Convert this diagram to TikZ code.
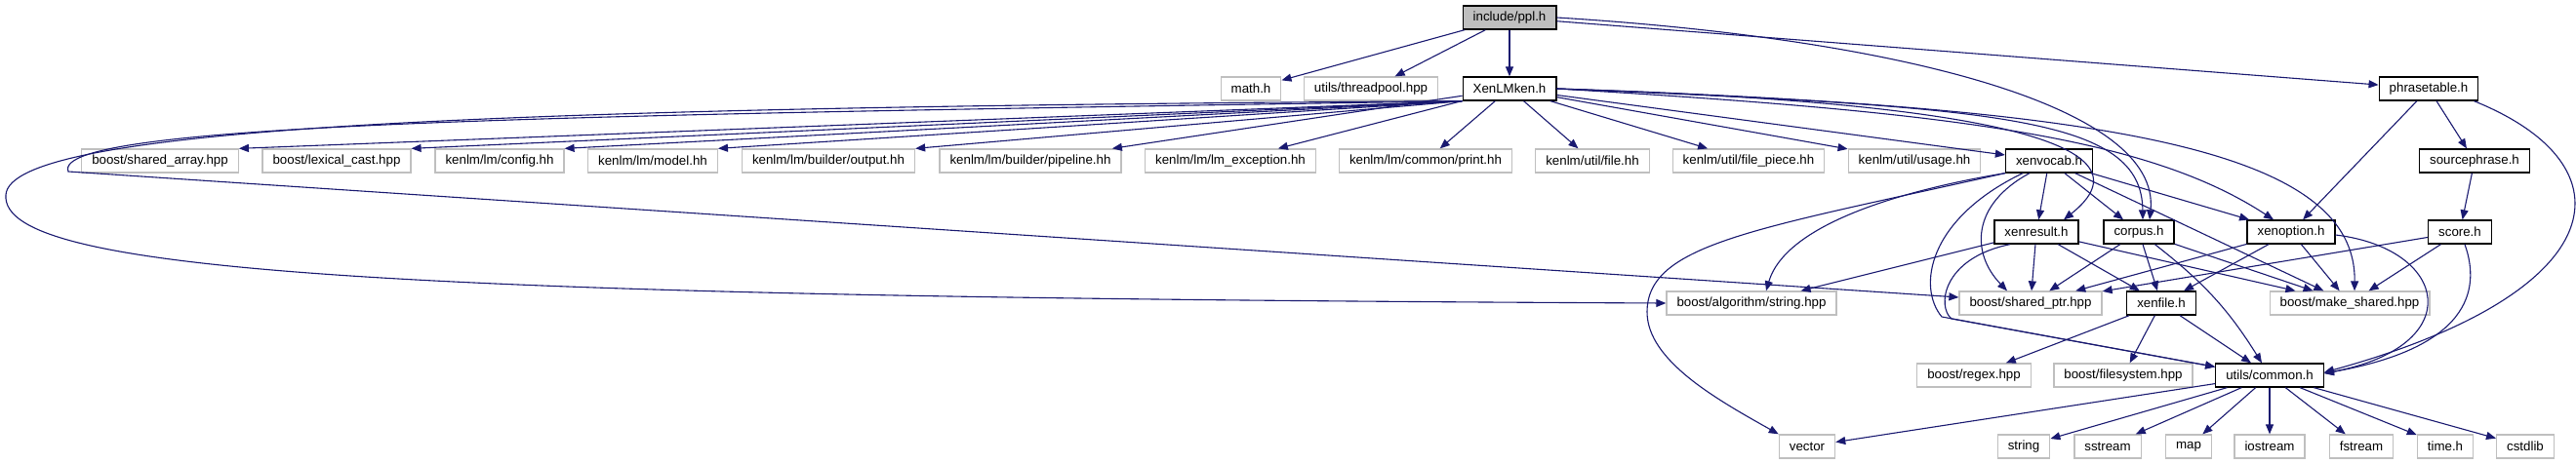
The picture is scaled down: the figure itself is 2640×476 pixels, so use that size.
\documentclass[tikz,border=0pt]{standalone}
\usepackage{fontspec}
\setmainfont{Liberation Sans}
\usepackage{tikz}
\usetikzlibrary{arrows.meta}
\definecolor{edgeblue}{HTML}{191970}

\begin{document}
\begin{tikzpicture}[x=1pt,y=-1pt,
  file/.style={draw=black,line width=1.3pt,fill=white,inner xsep=10.5pt,inner ysep=0pt,
    minimum height=24pt,font=\fontsize{13.3}{15}\selectfont},
  sysfile/.style={file,draw=black!25},
  topfile/.style={file,fill=black!25},
  dep/.style={draw=edgeblue,line width=1.1pt,-{Triangle[length=10pt,width=8pt]}}]
  \fill[white] (0,0) rectangle (2640,476);
  \useasboundingbox (0,0) rectangle (2640,476);
  \node[topfile] (ppl) at (1547,18) {include/ppl.h};
  \node[sysfile] (math) at (1282,91) {math.h};
  \node[sysfile] (threadpool) at (1405,91) {utils/threadpool.hpp};
  \node[file] (xenlmken) at (1547,91) {XenLMken.h};
  \node[file] (phrasetable) at (2489,91) {phrasetable.h};
  \foreach \nm/\x/\t in {sharedarray/164/{boost/shared\_array.hpp}, lexicalcast/345/{boost/lexical\_cast.hpp},
      config/512/{kenlm/lm/config.hh}, model/669/{kenlm/lm/model.hh}, output/849/{kenlm/lm/builder/output.hh},
      pipeline/1056/{kenlm/lm/builder/pipeline.hh}, lmexception/1261/{kenlm/lm/lm\_exception.hh},
      printhh/1461/{kenlm/lm/common/print.hh}, filehh/1632/{kenlm/util/file.hh},
      filepiece/1792/{kenlm/util/file\_piece.hh}, usage/1962/{kenlm/util/usage.hh}}
    \node[sysfile] (\nm) at (\x,165) {\t};
  \node[file] (xenvocab) at (2100,165) {xenvocab.h};
  \node[file] (sourcephrase) at (2536,165) {sourcephrase.h};
  \node[file] (xenresult) at (2087,238) {xenresult.h};
  \node[file] (corpus) at (2192,238) {corpus.h};
  \node[file] (xenoption) at (2348,238) {xenoption.h};
  \node[file] (score) at (2521,238) {score.h};
  \node[sysfile] (algostring) at (1795,311) {boost/algorithm/string.hpp};
  \node[sysfile] (sharedptr) at (2081,311) {boost/shared\_ptr.hpp};
  \node[file] (xenfile) at (2215,311) {xenfile.h};
  \node[sysfile] (makeshared) at (2408,311) {boost/make\_shared.hpp};
  \node[sysfile] (regex) at (2023,385) {boost/regex.hpp};
  \node[sysfile] (filesystem) at (2176,385) {boost/filesystem.hpp};
  \node[file] (common) at (2326,385) {utils/common.h};
  \foreach \nm/\x/\t in {vector/1852/vector, string/2074/string, sstream/2160/sstream, map/2243/map,
      iostream/2326/iostream, fstream/2420/fstream, timeh/2506/time.h, cstdlib/2588/cstdlib}
    \node[sysfile] (\nm) at (\x,458) {\t};

  \foreach \t in {math,threadpool,xenlmken,phrasetable}
    \draw[dep] (ppl) -- (\t);
  \draw[dep] (ppl.east) .. controls (1950,40) and (2215,110) .. ([xshift=11pt]corpus.north);

  \foreach \t in {sharedarray,lexicalcast,config,model,output}
    \draw[dep] (xenlmken.south west) -- (\t.north east);
  \foreach \t in {pipeline,lmexception,printhh,filehh,filepiece,usage,xenvocab}
    \draw[dep] (xenlmken) -- (\t);
  \draw[dep] (xenlmken.south west) .. controls (500,110) and (10,130) .. (6,200)
    .. controls (0,280) and (400,305) .. (algostring.west);
  \draw[dep] (xenlmken.south west) .. controls (600,118) and (50,125) .. (70,176)
    -- ([yshift=6pt]sharedptr.west);
  \draw[dep] (xenlmken.east) .. controls (2050,105) and (2210,150) .. ([xshift=28pt]xenresult.north);
  \draw[dep] (xenlmken.east) .. controls (2050,110) and (2195,120) .. ([xshift=4pt]corpus.north);
  \draw[dep] (xenlmken.east) .. controls (2000,115) and (2200,140) .. ([xshift=-18pt]xenoption.north);
  \draw[dep] (xenlmken.east) .. controls (2150,110) and (2415,150) .. ([xshift=5pt]makeshared.north);

  \foreach \t in {xenresult,corpus,xenoption,makeshared}
    \draw[dep] (xenvocab) -- (\t);
  \draw[dep] ([xshift=-20pt]xenvocab.south) .. controls (2020,210) and (2020,260) .. ([xshift=-24pt]sharedptr.north);
  \draw[dep] ([xshift=-27pt]xenvocab.south) .. controls (1975,225) and (1965,295) .. (1990,325)
    -- ([yshift=-4pt]common.north west);
  \draw[dep] (xenvocab.south west) .. controls (1950,195) and (1830,230) .. ([xshift=15pt]algostring.north);
  \draw[dep] (xenvocab.south west) .. controls (1800,235) and (1688,250) .. (1688,320)
    .. controls (1688,370) and (1760,410) .. (vector.north west);

  \foreach \t in {algostring,sharedptr,xenfile,makeshared}
    \draw[dep] (xenresult) -- (\t);
  \draw[dep] ([xshift=-27pt]xenresult.south) .. controls (1990,265) and (1985,315) .. (2000,327)
    -- ([yshift=-4pt]common.north west);

  \foreach \t in {sharedptr,xenfile,makeshared}
    \draw[dep] (corpus) -- (\t);
  \draw[dep] (corpus) to[bend left=10] (common);

  \foreach \t in {sharedptr,xenfile,makeshared}
    \draw[dep] (xenoption) -- (\t);
  \draw[dep] ([yshift=-3pt]xenoption.east) .. controls (2510,255) and (2530,355) .. ([yshift=2pt]common.east);

  \foreach \t in {sharedptr,makeshared}
    \draw[dep] (score) -- (\t);
  \draw[dep] ([xshift=5pt]score.south) .. controls (2540,290) and (2540,355) .. ([yshift=2pt]common.east);

  \draw[dep] (phrasetable) -- (xenoption);
  \draw[dep] (phrasetable) -- (sourcephrase);
  \draw[dep] ([xshift=-5pt]phrasetable.south east) .. controls (2700,170) and (2680,300) .. ([yshift=3pt]common.east);
  \draw[dep] (sourcephrase) -- (score);

  \foreach \t in {regex,filesystem,common}
    \draw[dep] (xenfile) -- (\t);
  \foreach \t in {vector,string,sstream,map,iostream,fstream,timeh,cstdlib}
    \draw[dep] (common) -- (\t);
\end{tikzpicture}
\end{document}
